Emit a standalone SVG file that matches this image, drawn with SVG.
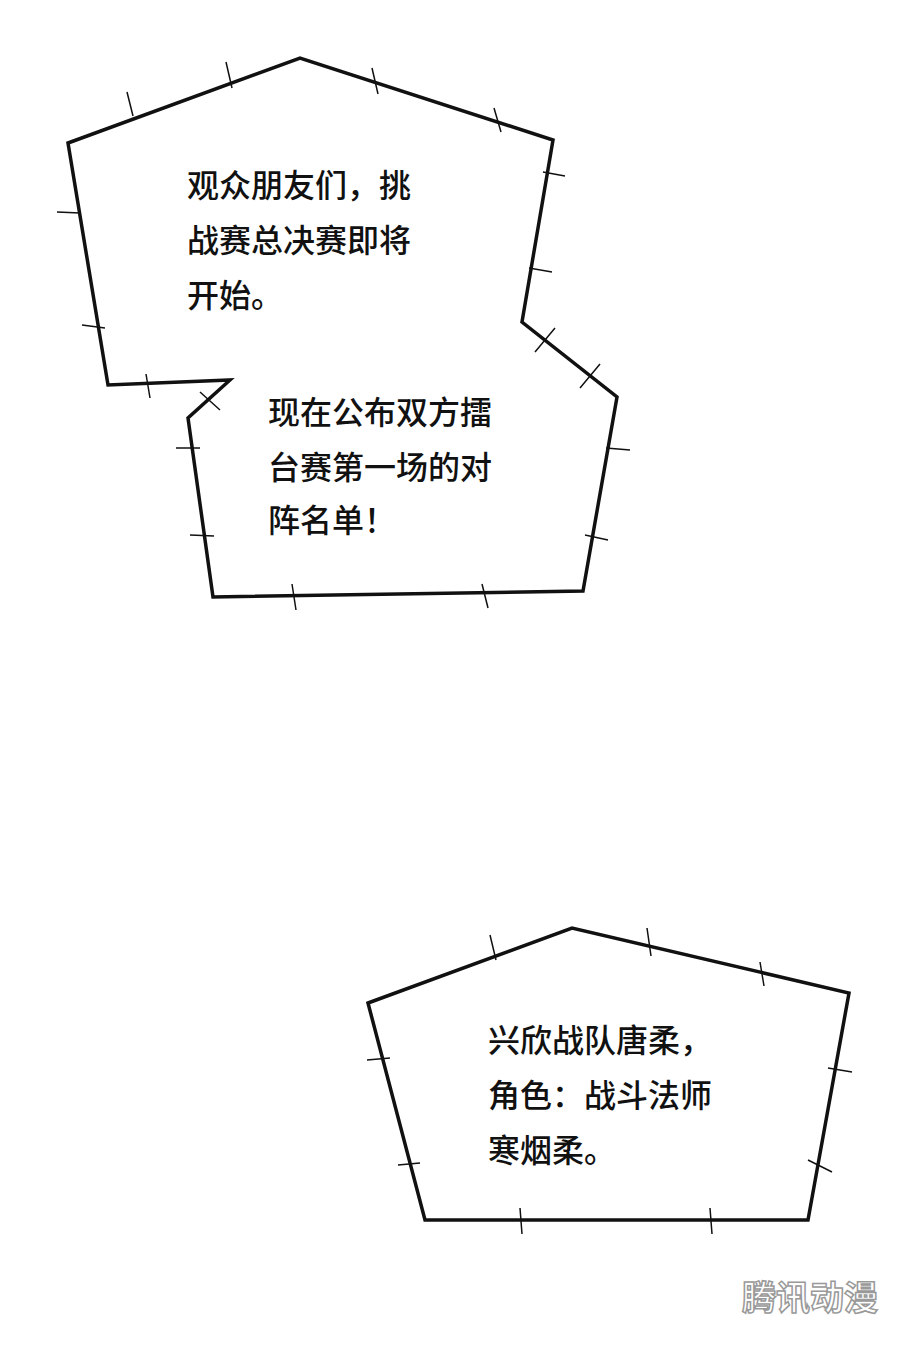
<svg xmlns="http://www.w3.org/2000/svg" width="900" height="1345" viewBox="0 0 900 1345">
<style>
.b{fill:#fff;stroke:#111;stroke-width:3.5;stroke-linejoin:miter}
.t{stroke:#111;stroke-width:1.5}
.x{font-family:"Noto Sans CJK SC",sans-serif;font-size:32px;font-weight:500;fill:#111}
</style>
<rect width="900" height="1345" fill="#fff"/>
<g id="bubble1">
<polygon class="b" points="68,143 300,58 553,140 522,322 617,397 583,591 213,597 188,418 230,380 108,385"/>
<path class="t" d="M127,92 L133,116 M226,62 L232,88 M372,68 L378,94 M494,108 L501,132 M543,172 L565,176 M529,268 L552,272 M535,352 L555,328 M580,388 L600,364 M606,448 L630,450 M585,535 L608,540 M482,584 L488,608 M292,584 L296,610 M190,535 L214,536 M176,448 L200,448 M200,392 L220,410 M146,374 L150,398 M82,325 L105,328 M57,212 L80,213"/>
<text class="x" x="187" y="197">观众朋友们，挑</text>
<text class="x" x="187" y="252">战赛总决赛即将</text>
<text class="x" x="187" y="307">开始。</text>
<text class="x" x="268" y="424">现在公布双方擂</text>
<text class="x" x="268" y="479">台赛第一场的对</text>
<text class="x" x="268" y="532">阵名单！</text>
</g>
<g id="bubble2">
<polygon class="b" points="368,1003 572,928 849,993 808,1220 425,1220"/>
<path class="t" d="M490,935 L496,960 M647,928 L651,956 M760,962 L764,986 M828,1068 L852,1072 M808,1160 L832,1172 M710,1208 L712,1234 M520,1208 L522,1234 M398,1165 L420,1163 M367,1060 L390,1058"/>
<text class="x" x="488" y="1052">兴欣战队唐柔，</text>
<text class="x" x="488" y="1107">角色：战斗法师</text>
<text class="x" x="488" y="1162">寒烟柔。</text>
</g>
<text x="742" y="1310" font-family="Noto Sans CJK SC,sans-serif" font-size="34" font-weight="bold" fill="#fff" stroke="#999" stroke-width="1.5">腾讯动漫</text>
</svg>
